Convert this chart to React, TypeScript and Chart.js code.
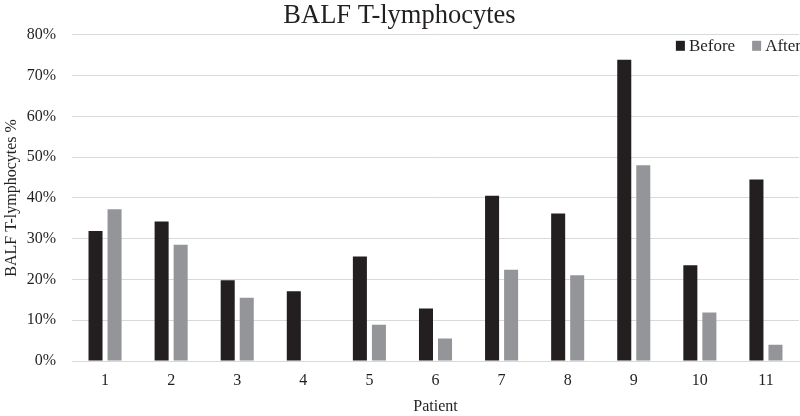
import React, { useEffect, useRef } from "react";
import { Chart, registerables } from "chart.js";

Chart.register(...registerables);

const patients: string[] = ["1", "2", "3", "4", "5", "6", "7", "8", "9", "10", "11"];
const beforeValues: number[] = [31.9, 34.2, 19.8, 17.1, 25.6, 12.9, 40.5, 36.2, 73.9, 23.5, 44.5];
const afterValues: number[] = [37.2, 28.5, 15.5, 0, 8.9, 5.5, 22.4, 21.0, 48.0, 11.9, 4.0];
const yTicks: number[] = [0, 10, 20, 30, 40, 50, 60, 70, 80];

const SERIF = "'Liberation Serif', 'Times New Roman', serif";

const insideLegend = {
  id: "insideLegend",
  afterDraw(chart: any) {
    const ctx = chart.ctx;
    const area = chart.chartArea;
    ctx.save();
    ctx.font = `17px ${SERIF}`;
    ctx.textBaseline = "middle";
    ctx.textAlign = "left";
    const box = 9;
    const gapBox = 4;
    const gapItem = 17;
    const items = chart.data.datasets.map((d: any) => ({
      label: d.label as string,
      color: d.backgroundColor as string,
      w: ctx.measureText(d.label).width,
    }));
    const total = items.reduce((s: number, it: any) => s + box + gapBox + it.w, 0) + gapItem * (items.length - 1);
    let x = area.right + 2 - total;
    const cy = area.top + 11;
    for (const it of items) {
      ctx.fillStyle = it.color;
      ctx.fillRect(x, cy - 5, box, box + 1);
      ctx.fillStyle = "#231f20";
      ctx.fillText(it.label, x + box + gapBox, cy + 1);
      x += box + gapBox + it.w + gapItem;
    }
    ctx.restore();
  },
};

export default function App() {
  const ref = useRef<HTMLCanvasElement | null>(null);

  useEffect(() => {
    document.body.style.margin = "0";
    const canvas = ref.current;
    if (!canvas) return;
    const chart = new Chart(canvas, {
      type: "bar",
      data: {
        labels: patients,
        datasets: [
          {
            label: "Before",
            data: beforeValues,
            backgroundColor: "#231f20",
            categoryPercentage: 0.576,
            barPercentage: 0.737,
          },
          {
            label: "After",
            data: afterValues,
            backgroundColor: "#939598",
            categoryPercentage: 0.576,
            barPercentage: 0.737,
          },
        ],
      },
      options: {
        responsive: false,
        animation: false,
        devicePixelRatio: 1,
        layout: { padding: { left: 0, right: 1, top: 0, bottom: 0 } },
        font: { family: SERIF },
        plugins: {
          title: {
            display: true,
            text: "BALF T-lymphocytes",
            color: "#231f20",
            font: { family: SERIF, size: 26.5, weight: "normal" },
            padding: { top: 0, bottom: 3 },
          },
          legend: { display: false },
          tooltip: { enabled: false },
        },
        scales: {
          x: {
            grid: { display: false, drawTicks: false },
            border: { display: true, color: "#d9d9d9" },
            ticks: {
              color: "#231f20",
              font: { family: SERIF, size: 16 },
              padding: 10,
            },
            title: {
              display: true,
              text: "Patient",
              color: "#231f20",
              font: { family: SERIF, size: 16 },
              padding: { top: 2, bottom: 0 },
            },
            afterFit: (scale: any) => {
              scale.height = 55;
            },
          },
          y: {
            min: 0,
            max: 80,
            afterBuildTicks: (scale: any) => {
              scale.ticks = yTicks.map((v) => ({ value: v }));
            },
            grid: { color: "#d9d9d9", drawTicks: false },
            border: { display: false },
            ticks: {
              color: "#231f20",
              font: { family: SERIF, size: 16 },
              padding: 16,
              callback: (v: any) => `${v}%`,
            },
            title: {
              display: true,
              text: "BALF T-lymphocytes %",
              color: "#231f20",
              font: { family: SERIF, size: 16 },
              padding: { top: 2, bottom: 0 },
            },
            afterFit: (scale: any) => {
              scale.width = 72;
            },
          },
        },
      },
      plugins: [insideLegend],
    });
    return () => chart.destroy();
  }, []);

  return (
    <div style={{ width: 800, height: 416, position: "relative" }}>
      <canvas ref={ref} width={800} height={416} style={{ width: 800, height: 416, display: "block" }} />
    </div>
  );
}
